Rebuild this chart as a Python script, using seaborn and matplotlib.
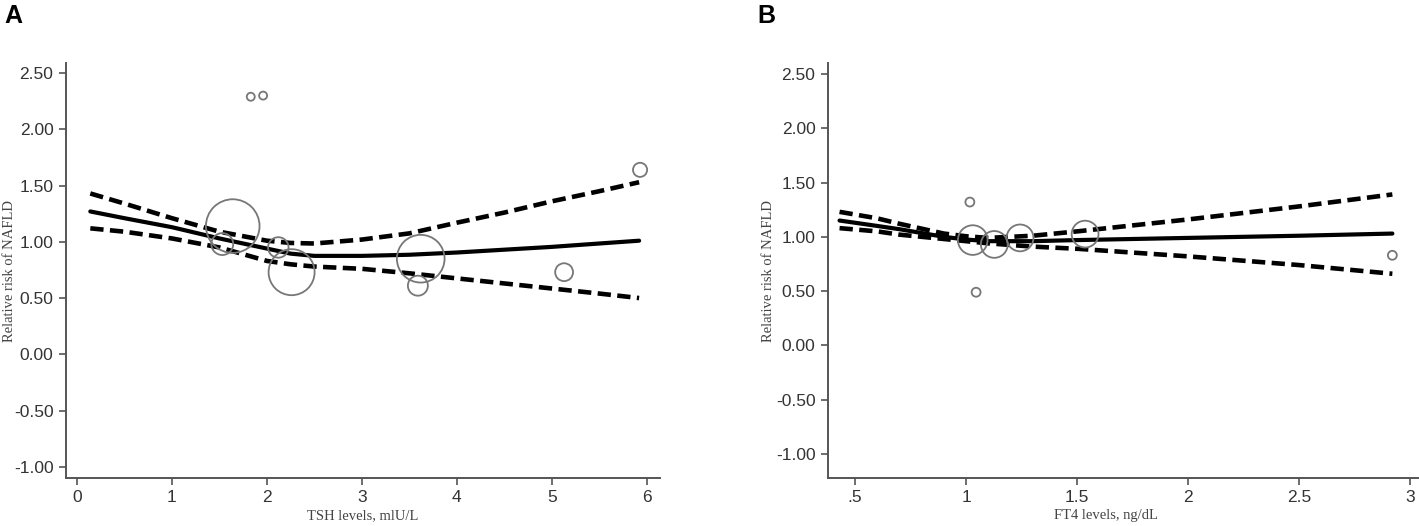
import matplotlib
matplotlib.use('Agg')
import matplotlib.pyplot as plt
import seaborn as sns
import numpy as np

# Panel A - TSH
tsh_x = [0.14, 0.5, 1.0, 1.5, 2.0, 2.25, 2.5, 3.0, 3.5, 4.0, 4.5, 5.0, 5.5, 5.92]
tsh_rr = [1.27, 1.21, 1.13, 1.03, 0.94, 0.895, 0.875, 0.875, 0.885, 0.905, 0.93, 0.955, 0.985, 1.01]
tsh_upper = [1.43, 1.34, 1.21, 1.09, 1.01, 0.99, 0.985, 1.02, 1.075, 1.17, 1.26, 1.36, 1.45, 1.53]
tsh_lower = [1.12, 1.09, 1.03, 0.95, 0.83, 0.80, 0.78, 0.76, 0.72, 0.675, 0.63, 0.585, 0.54, 0.50]

tsh_study_x = [1.83, 1.96, 1.64, 1.53, 2.12, 2.26, 3.62, 3.59, 5.13, 5.93]
tsh_study_rr = [2.29, 2.30, 1.14, 0.98, 0.95, 0.73, 0.85, 0.61, 0.73, 1.64]
tsh_weight = [1.6, 1.6, 72, 12, 10.5, 53, 57, 10, 8, 5]

# Panel B - FT4
ft4_x = [0.43, 0.6, 0.7, 0.8, 0.9, 1.0, 1.1, 1.3, 1.5, 2.0, 2.5, 2.92]
ft4_rr = [1.15, 1.10, 1.07, 1.035, 1.00, 0.975, 0.96, 0.96, 0.97, 0.99, 1.01, 1.03]
ft4_upper = [1.23, 1.17, 1.12, 1.075, 1.03, 1.005, 0.99, 1.01, 1.05, 1.16, 1.28, 1.39]
ft4_lower = [1.08, 1.05, 1.02, 1.00, 0.98, 0.96, 0.94, 0.91, 0.89, 0.82, 0.74, 0.66]

ft4_study_x = [1.017, 1.045, 1.03, 1.127, 1.243, 1.536, 2.92]
ft4_study_rr = [1.32, 0.49, 0.97, 0.93, 0.99, 1.025, 0.83]
ft4_weight = [2.0, 2.0, 22, 18, 18, 18, 2.0]

ytick_vals = [-1.0, -0.5, 0.0, 0.5, 1.0, 1.5, 2.0, 2.5]
ytick_labels = ['-1.00', '-0.50', '0.00', '0.50', '1.00', '1.50', '2.00', '2.50']
tsh_ticks = [0, 1, 2, 3, 4, 5, 6]
ft4_ticks = [0.5, 1.0, 1.5, 2.0, 2.5, 3.0]
ft4_tick_labels = ['.5', '1', '1.5', '2', '2.5', '3']

sns.set_theme(style='white')
plt.rcParams['font.family'] = ['Liberation Sans', 'DejaVu Sans']

fig = plt.figure(figsize=(14.19, 5.26), dpi=100, facecolor='white')
axA = fig.add_axes([66 / 1419, 48 / 526, 594 / 1419, 415 / 526])
axB = fig.add_axes([828 / 1419, 48 / 526, 591 / 1419, 415 / 526])

spine_col = '#555555'
circ_col = '#777777'
dash = (0, (2.9, 1.4))


def draw(ax, x, rr, up, lo, sx, sy, sw):
    sns.lineplot(x=x, y=up, ax=ax, color='black', linewidth=3.3, linestyle=dash, sort=True)
    sns.lineplot(x=x, y=lo, ax=ax, color='black', linewidth=3.3, linestyle=dash, sort=True)
    sns.lineplot(x=x, y=rr, ax=ax, color='black', linewidth=3.0, sort=True)
    sns.scatterplot(x=sx, y=sy, size=sw, sizes=(0, 2070), size_norm=(0, 100),
                    legend=False, marker='o', facecolor='none', edgecolor=circ_col,
                    linewidth=1.3, ax=ax, zorder=3)
    for s in ['top', 'right']:
        ax.spines[s].set_visible(False)
    for s in ['left', 'bottom']:
        ax.spines[s].set_color(spine_col)
        ax.spines[s].set_linewidth(1.4)
    ax.set_yticks(ytick_vals)
    ax.set_yticklabels(ytick_labels)
    ax.tick_params(axis='both', direction='out', length=5, width=1.2, color=spine_col,
                   labelsize=12.5, labelcolor='#333333', left=True, bottom=True, pad=4)
    ax.grid(False)


draw(axA, tsh_x, tsh_rr, tsh_upper, tsh_lower, tsh_study_x, tsh_study_rr, tsh_weight)
axA.set_xlim(-0.116, 6.14)
axA.set_ylim(-1.10, 2.59)
axA.set_xticks(tsh_ticks)
axA.set_xticklabels([str(t) for t in tsh_ticks])

draw(axB, ft4_x, ft4_rr, ft4_upper, ft4_lower, ft4_study_x, ft4_study_rr, ft4_weight)
axB.set_xlim(0.378, 3.04)
axB.set_ylim(-1.22, 2.60)
axB.set_xticks(ft4_ticks)
axB.set_xticklabels(ft4_tick_labels)

lab_font = dict(family=['Liberation Serif', 'DejaVu Serif'], fontsize=10.5, color='#444444')
axA.set_ylabel('Relative risk of NAFLD', **lab_font)
axA.set_xlabel('TSH levels, mlU/L', **lab_font)
axA.yaxis.set_label_coords(-0.084, 0.5)
axA.xaxis.set_label_coords(0.5, -0.074)

axB.set_ylabel('Relative risk of NAFLD', **lab_font)
axB.set_xlabel('FT4 levels, ng/dL', **lab_font)
axB.yaxis.set_label_coords(-0.090, 0.5)
axB.xaxis.set_label_coords(0.47, -0.074)

fig.text(4 / 1419, 1 - 4 / 526, 'A', fontsize=18, fontweight='bold', va='top', ha='left', color='black')
fig.text(757 / 1419, 1 - 4 / 526, 'B', fontsize=18, fontweight='bold', va='top', ha='left', color='black')

fig.savefig('out.png', dpi=100, facecolor='white')
